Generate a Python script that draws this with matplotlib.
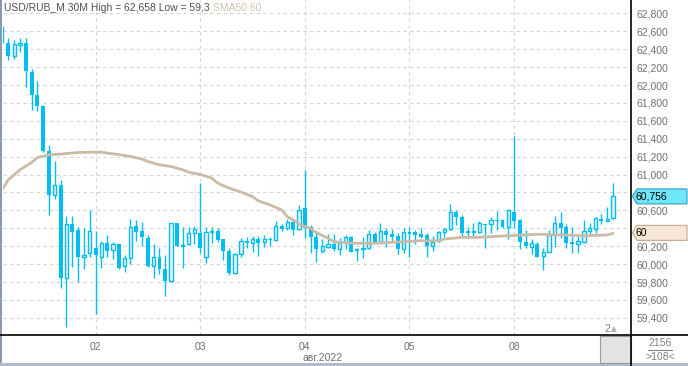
import matplotlib
matplotlib.use('Agg')
import numpy as np
import matplotlib.pyplot as plt
import matplotlib.transforms as mtransforms
from matplotlib.patches import Rectangle, Polygon
from matplotlib.lines import Line2D

# 30-minute candles, USD/RUB_M
opens = [62632, 62475, 62322, 62445, 62475, 62150, 61893, 61770, 61266, 60776,
         60885, 59847, 60448, 60381, 60075, 60120, 60176, 60082, 60232, 60157,
         60221, 59974, 60064, 60426, 60370, 60291, 59981, 60075, 59940, 59810,
         60456, 60205, 60221, 60344, 60344, 60082, 60362, 60370, 60280, 60146,
         59903, 60109, 60261, 60232, 60277, 60243, 60284, 60265, 60426, 60400,
         60467, 60389, 60624, 60411, 60299, 60149, 60194, 60221, 60165, 60239,
         60299, 60168, 60165, 60176, 60333, 60239, 60370, 60333, 60314, 60165,
         60355, 60355, 60336, 60321, 60205, 60258, 60355, 60389, 60579, 60530,
         60370, 60362, 60362, 60452, 60444, 60493, 60493, 60418, 60579, 60493,
         60250, 60194, 60221, 60093, 60138, 60325, 60463, 60411, 60243, 60221,
         60250, 60373, 60389, 60504, 60485, 60512]
highs = [62658, 62520, 62498, 62531, 62531, 62184, 62050, 61775, 61333, 61154,
         60941, 60538, 60538, 60418, 60403, 60605, 60366, 60258, 60321, 60243,
         60232, 60101, 60504, 60493, 60467, 60321, 60224, 60183, 60101, 60456,
         60460, 60411, 60411, 60426, 60904, 60418, 60411, 60400, 60280, 60176,
         60127, 60288, 60299, 60314, 60314, 60321, 60306, 60478, 60448, 60508,
         60493, 60661, 61053, 60437, 60373, 60277, 60336, 60336, 60288, 60325,
         60314, 60176, 60306, 60381, 60355, 60456, 60400, 60392, 60351, 60400,
         60418, 60381, 60400, 60344, 60314, 60366, 60400, 60672, 60605, 60549,
         60418, 60456, 60478, 60452, 60523, 60594, 60508, 60613, 61434, 60504,
         60381, 60277, 60243, 60183, 60381, 60538, 60582, 60444, 60411, 60314,
         60493, 60456, 60523, 60560, 60635, 60904]
lows = [62470, 62277, 62296, 62371, 61975, 61717, 61706, 61250, 60549, 60728,
        59735, 59300, 59970, 59802, 59940, 60075, 59448, 59958, 60082, 60056,
        59944, 59907, 60004, 60261, 60205, 59970, 59847, 59888, 59645, 59800,
        60200, 59958, 60213, 60221, 60120, 60008, 60239, 60250, 60045, 59880,
        59892, 60082, 60176, 60138, 60093, 60187, 60205, 60258, 60370, 60381,
        60325, 60381, 60288, 60127, 60026, 60120, 60176, 60149, 60101, 60172,
        60131, 60038, 60064, 60165, 60235, 60232, 60194, 60250, 60109, 60120,
        60075, 60221, 60292, 60082, 60146, 60250, 60306, 60381, 60437, 60314,
        60288, 60299, 60351, 60183, 60351, 60381, 60400, 60276, 60400, 60165,
        60176, 60109, 60082, 59933, 60138, 60194, 60295, 60183, 60127, 60127,
        60239, 60325, 60351, 60448, 60480, 60500]
closes = [62479, 62322, 62464, 62472, 62154, 61885, 61762, 61258, 60776, 60885,
          59847, 60448, 60362, 60082, 60098, 60366, 60098, 60232, 60149, 60221,
          59958, 60064, 60418, 60362, 60299, 59981, 60075, 59940, 59810, 60456,
          60205, 60215, 60344, 60389, 60176, 60355, 60372, 60269, 60149, 59903,
          60109, 60261, 60232, 60277, 60239, 60277, 60265, 60422, 60396, 60467,
          60381, 60605, 60400, 60299, 60165, 60202, 60221, 60165, 60232, 60299,
          60138, 60149, 60183, 60333, 60247, 60370, 60325, 60306, 60165, 60362,
          60336, 60325, 60306, 60205, 60250, 60355, 60389, 60579, 60530, 60351,
          60351, 60368, 60456, 60437, 60493, 60478, 60414, 60605, 60485, 60250,
          60202, 60232, 60082, 60138, 60325, 60463, 60400, 60232, 60224, 60254,
          60373, 60400, 60512, 60485, 60504, 60756]

# SMA50 as it appears on the chart (candle index, value)
sma_idx = [0, 1, 3, 5, 6, 8, 10, 13, 17, 18, 20, 22, 24, 25, 27, 29, 31, 32, 34,
           36, 37, 39, 41, 43, 44, 46, 48, 49, 50, 51, 53, 54, 56, 57, 59, 61, 64,
           66, 69, 72, 75, 76, 79, 82, 84, 87, 92, 97, 100, 104, 105]
sma_val = [60840, 60941, 61053, 61135, 61191, 61221, 61229, 61247, 61251, 61240,
           61224, 61202, 61173, 61146, 61109, 61090, 61053, 61027, 61002, 60960,
           60904, 60848, 60806, 60754, 60706, 60661, 60605, 60530, 60493, 60445,
           60398, 60351, 60288, 60250, 60239, 60232, 60232, 60239, 60250, 60261,
           60261, 60280, 60299, 60299, 60306, 60317, 60333, 60325, 60317, 60325,
           60344]

day_idx = [16, 34, 52, 70, 88]
day_labels = ['02', '03', '04', '05', '08']
y_ticks = list(range(59400, 62801, 200))

W, H = 688, 366
CYAN = '#00bef0'
TXT = '#707070'
plt.rcParams['font.family'] = ['Liberation Sans', 'DejaVu Sans']


def fx(px):
    return px / W


def fy(py):
    return 1 - py / H


fig = plt.figure(figsize=(W / 100, H / 100), dpi=100)
ax = fig.add_axes([fx(2.5), fy(335), fx(631) - fx(2.5), 335 / H])

o = np.array(opens); h = np.array(highs); l = np.array(lows); c = np.array(closes)
x = np.arange(len(o))
up = c >= o
lo = np.minimum(o, c)
bh = np.maximum(np.abs(c - o), 10)

ax.vlines(x, l, h, color=CYAN, lw=1.0, zorder=2)
ax.bar(x[~up], bh[~up], bottom=lo[~up], width=0.68, color=CYAN, lw=0, zorder=3)
ax.bar(x[up], bh[up], bottom=lo[up], width=0.56, facecolor='#efefef',
       edgecolor=CYAN, linewidth=1.0, zorder=3)
ax.plot(sma_idx, sma_val, color='#cbbba6', lw=2.0, zorder=4, solid_capstyle='round')

ax.set_xlim(0, 108.1)
ax.set_ylim(59208, 62950)
ax.set_yticks(y_ticks, [f'{v / 1000:.3f}'.replace('.', ',') for v in y_ticks])
ax.set_xticks(day_idx, day_labels)
ax.yaxis.tick_right()
ax.tick_params(axis='y', length=0, pad=4, labelsize=7.5, labelcolor=TXT)
ax.tick_params(axis='x', length=0, pad=5, labelsize=7.5, labelcolor=TXT)
ax.grid(True, color='#d4d4d4', linestyle=(0, (3, 3)), lw=0.8)
ax.set_axisbelow(True)
for s in ax.spines.values():
    s.set_visible(False)

# title line
fig.text(fx(4), fy(8), 'USD/RUB_M 30M High = 62,658 Low = 59,3', fontsize=7.5,
         color='#505050', va='center')
fig.text(fx(213), fy(8), 'SMA50 60', fontsize=7.5, color='#d2c2b0', va='center')

# frame lines
fig.add_artist(Line2D([0, 1], [fy(335), fy(335)], color='black', lw=1.2))
fig.add_artist(Line2D([fx(631), fx(631)], [0, 1], color='black', lw=1.2))
fig.add_artist(Rectangle((0, 0), fx(2), 1, fc='#8a9bb0', ec='none'))
fig.add_artist(Rectangle((0, 0), 1, 3 / H, fc='#aebccd', ec='none'))

# price labels on the right axis
blend = mtransforms.blended_transform_factory(fig.transFigure, ax.transData)
dpp = (62950 - 59208) / 335


def price_tag(val, text, fc, ec):
    hh = 7.5 * dpp
    pts = [(fx(632.5), val), (fx(637), val + hh), (fx(687), val + hh),
           (fx(687), val - hh), (fx(637), val - hh)]
    fig.add_artist(Polygon(pts, closed=True, fc=fc, ec=ec, lw=0.8, transform=blend))
    fig.text(fx(636), val, text, transform=blend, fontsize=7.5, color='black',
             va='center')


price_tag(closes[-1], '60,756', '#6ee7fb', '#3a9ab8')
price_tag(sma_val[-1] + 5, '60', '#f7e7d7', '#c4a888')

# bottom strip
date_tf = mtransforms.blended_transform_factory(ax.transData, fig.transFigure)
ax.text(55.1, fy(358), 'авг.2022', transform=date_tf, fontsize=7.5, color=TXT,
        ha='center', va='center')
fig.add_artist(Rectangle((fx(600), fy(363)), fx(31), 27 / H, fc='#e3e3e3',
                         ec='#9a9a9a', lw=0.8))
fig.text(fx(604), fy(329), '2', fontsize=7.5, color='#808080', va='center')
fig.text(fx(611), fy(329), '▲', fontsize=5.5, color='#b0b0b0', va='center',
         family='DejaVu Sans')
fig.text(fx(660), fy(343), '2156', fontsize=7.5, color='#808080', ha='center',
         va='center')
fig.add_artist(Line2D([fx(648), fx(672)], [fy(350), fy(350)], color='#808080', lw=0.8))
fig.text(fx(660), fy(357), '>108<', fontsize=7.5, color='#808080', ha='center',
         va='center')

fig.savefig('out.png', dpi=100)
